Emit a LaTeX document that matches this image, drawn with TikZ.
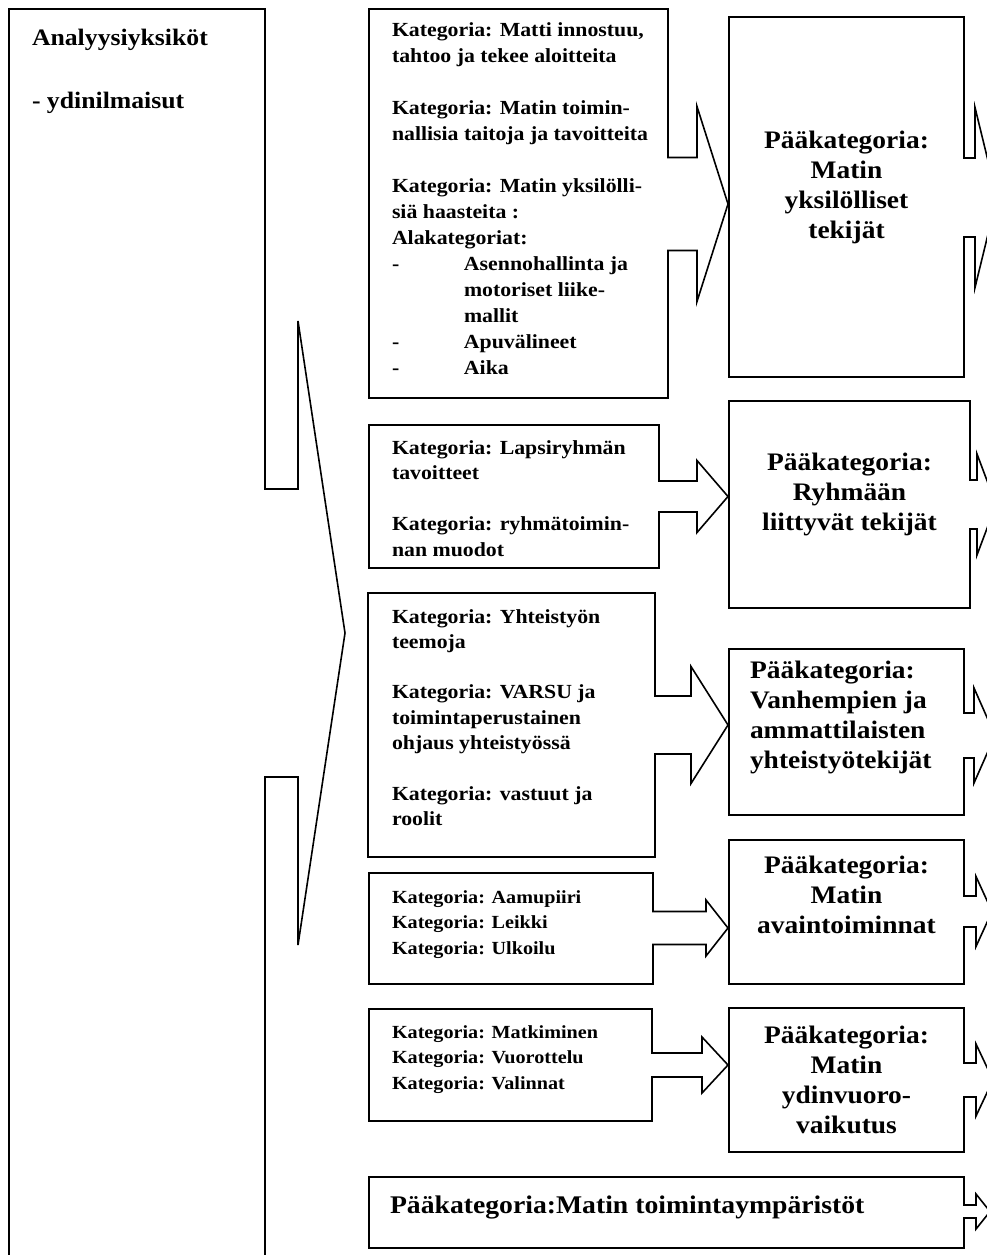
\documentclass[tikz,border=0pt]{standalone}
\usepackage{fontspec}
\setmainfont{Liberation Serif}[FakeStretch=1.09]

% Right-pointing arrow callout: box body with an open neck and a triangular head.
% #1 left, #2 top, #3 right, #4 bottom, #5 arrow axis y,
% #6 half neck height, #7 half head height, #8 head base x, #9 tip x
\newcommand\arrowcallout[9]{%
  \draw[callout] ({#1},{#2}) -- ({#3},{#2}) -- ({#3},{#5-#6}) -- ({#8},{#5-#6})
    -- ({#8},{#5-#7}) -- ({#9},{#5}) -- ({#8},{#5+#7}) -- ({#8},{#5+#6})
    -- ({#3},{#5+#6}) -- ({#3},{#4}) -- ({#1},{#4}) -- cycle;}

% Text blocks: first baseline sits on the node's base anchor
% #1 font size, #2 line pitch, #3 text
\newcommand\kattext[3]{\parbox[t]{330pt}{\raggedright\fontsize{#1}{#2}\selectfont\bfseries #3}}
\newcommand\paatext[1]{\parbox[t]{236pt}{\centering\fontsize{25.2}{30}\selectfont\bfseries #1}}
\newcommand\paaleft[1]{\parbox[t]{236pt}{\raggedright\fontsize{25.2}{30}\selectfont\bfseries #1}}
\newcommand\dashitem{\makebox[72pt][l]{-}}
\newcommand\subindent{\hspace*{72pt}}

\tikzset{
  callout/.style={draw=black, line width=1.6pt, fill=white},
  txt/.style={inner sep=0pt, outer sep=0pt, text=black},
}

\begin{document}
\begin{tikzpicture}[x=1pt, y=-1pt]
\useasboundingbox (0,0) rectangle (987,1255);
\fill[white] (0,0) rectangle (987,1255);
\clip (0,0) rectangle (987,1255);

% ---- analysis units column with its large arrow ----
\arrowcallout{9}{9}{265}{1275}{633}{144}{312}{298}{345}
\node[txt, anchor=base west] (units) at (32,46)
  {\fontsize{23.6}{28}\selectfont\bfseries Analyysiyksiköt};
\node[txt, anchor=base west] (core) at (32,108)
  {\fontsize{23.6}{28}\selectfont\bfseries - ydinilmaisut};

% ---- category boxes ----
\arrowcallout{369}{9}{668}{398}{204}{46.5}{97.5}{697}{728}
\node[txt, anchor=base west] (k1) at (392,37) {\kattext{20}{26}{%
Kategoria: Matti innostuu,\\
tahtoo ja tekee aloitteita\\[26pt]
Kategoria: Matin toimin-\\
nallisia taitoja ja tavoitteita\\[26pt]
Kategoria: Matin yksilölli-\\
siä haasteita :\\
Alakategoriat:\\
\dashitem Asennohallinta ja\\
\subindent motoriset liike-\\
\subindent mallit\\
\dashitem Apuvälineet\\
\dashitem Aika}};

\arrowcallout{369}{425}{659}{568}{496.5}{15.5}{36}{697}{728}
\node[txt, anchor=base west] (k2) at (392,454) {\kattext{20}{25.5}{%
Kategoria: Lapsiryhmän\\
tavoitteet\\[25.5pt]
Kategoria: ryhmätoimin-\\
nan muodot}};

\arrowcallout{368}{593}{655}{857}{725}{29}{58.5}{691}{728}
\node[txt, anchor=base west] (k3) at (392,623) {\kattext{20}{25.3}{%
Kategoria: Yhteistyön\\
teemoja\\[25.3pt]
Kategoria: VARSU ja\\
toimintaperustainen\\
ohjaus yhteistyössä\\[25.3pt]
Kategoria: vastuut ja\\
roolit}};

\arrowcallout{369}{873}{653}{984}{928}{16.5}{28}{706}{728}
\node[txt, anchor=base west] (k4) at (392,903) {\kattext{18.5}{25.5}{%
Kategoria: Aamupiiri\\
Kategoria: Leikki\\
Kategoria: Ulkoilu}};

\arrowcallout{369}{1009}{652}{1121}{1065}{12}{28}{702}{728}
\node[txt, anchor=base west] (k5) at (392,1038) {\kattext{18.5}{25.5}{%
Kategoria: Matkiminen\\
Kategoria: Vuorottelu\\
Kategoria: Valinnat}};

% ---- main category boxes ----
\arrowcallout{729}{17}{964}{377}{197.5}{39.5}{90}{975}{997}
\node[txt, anchor=base] (p1) at (846.5,148) {\paatext{%
Pääkategoria:\\ Matin\\ yksilölliset\\ tekijät}};

\arrowcallout{729}{401}{970}{608}{504.5}{24.5}{50.5}{977}{996}
\node[txt, anchor=base] (p2) at (849.5,470) {\paatext{%
Pääkategoria:\\ Ryhmään\\ liittyvät tekijät}};

\arrowcallout{729}{649}{964}{815}{735.5}{22.5}{47.5}{974}{995}
\node[txt, anchor=base west] (p3) at (750,678) {\paaleft{%
Pääkategoria:\\ Vanhempien ja\\ ammattilaisten\\ yhteistyötekijät}};

\arrowcallout{729}{840}{964}{984}{911.5}{15.5}{35}{976}{992}
\node[txt, anchor=base] (p4) at (846.5,873) {\paatext{%
Pääkategoria:\\ Matin\\ avaintoiminnat}};

\arrowcallout{729}{1008}{964}{1152}{1080}{17}{36}{976}{993}
\node[txt, anchor=base] (p5) at (846.5,1043) {\paatext{%
Pääkategoria:\\ Matin\\ ydinvuoro-\\ vaikutus}};

\arrowcallout{369}{1177}{964}{1248}{1211.5}{6.5}{17.5}{976}{990}
\node[txt, anchor=base west] (p6) at (390,1213)
  {\fontsize{25.4}{30}\selectfont\bfseries Pääkategoria:Matin toimintaympäristöt};
\end{tikzpicture}
\end{document}
